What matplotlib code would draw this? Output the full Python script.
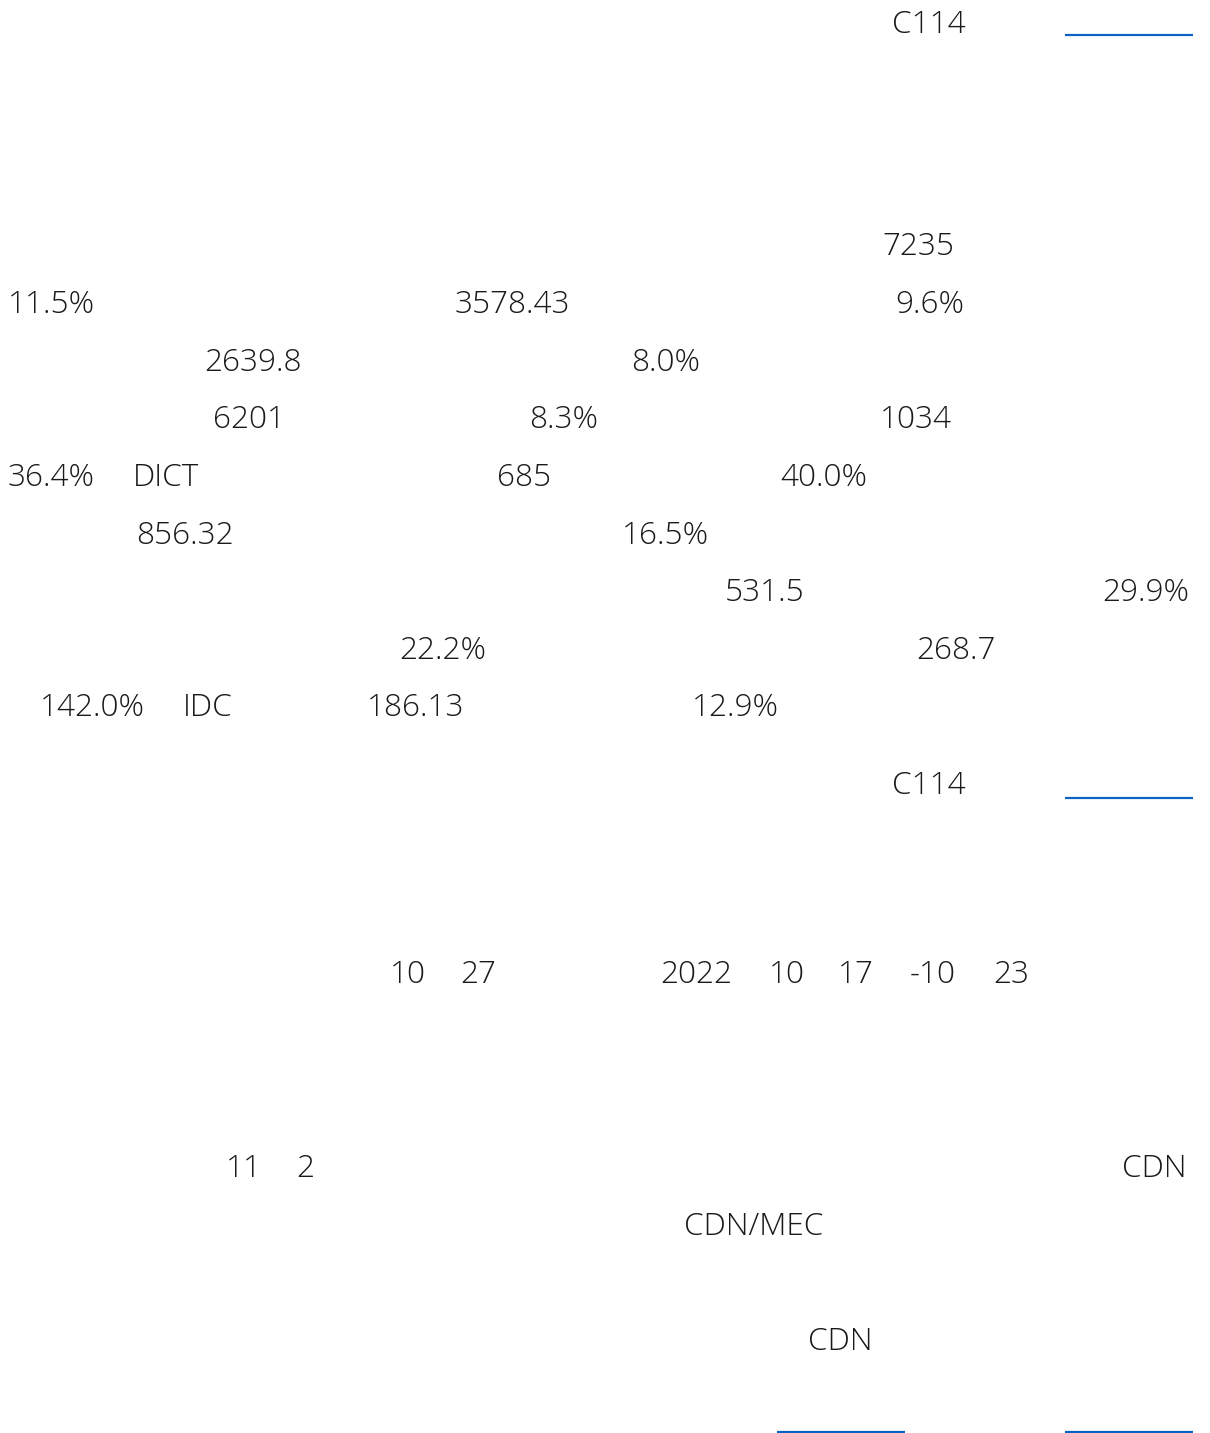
import matplotlib
matplotlib.use("Agg")
import matplotlib.pyplot as plt

# Visible text fragments (Latin/digits only; CJK glyphs render blank in the source)
row_texts = [
    ["C114"],
    ["7235"],
    ["11.5%", "3578.43", "9.6%"],
    ["2639.8", "8.0%"],
    ["6201", "8.3%", "1034"],
    ["36.4%", "DICT", "685", "40.0%"],
    ["856.32", "16.5%"],
    ["531.5", "29.9%"],
    ["22.2%", "268.7"],
    ["142.0%", "IDC", "186.13", "12.9%"],
    ["C114"],
    ["10", "27", "2022", "10", "17", "-10", "23"],
    ["11", "2", "CDN"],
    ["CDN/MEC"],
    ["CDN"],
]

# layout (pixel coordinates of the page)
row_baselines = [33, 255, 313, 371, 428, 486, 544, 601, 659, 716, 794, 983, 1177, 1235, 1350]
row_x = [
    [892],
    [882],
    [8, 455, 895],
    [204, 631],
    [213, 529, 880],
    [8, 133, 497, 780],
    [136, 622],
    [725, 1102],
    [399, 916],
    [40, 183, 367, 692],
    [892],
    [390, 460, 660, 769, 838, 910, 993],
    [226, 296, 1122],
    [684],
    [808],
]
link_y = [35, 798, 1432, 1432]
link_x0 = [1065, 1065, 777, 1065]
link_x1 = [1193, 1193, 905, 1193]

W, H = 1210, 1433
fig = plt.figure(figsize=(W / 100, H / 100), dpi=100)
ax = fig.add_axes([0, 0, 1, 1])
ax.set_xlim(0, W)
ax.set_ylim(H, 0)
ax.axis("off")

for texts, xs, yb in zip(row_texts, row_x, row_baselines):
    for t, x in zip(texts, xs):
        ax.text(x, yb, t, fontsize=22.7, family=["Open Sans", "DejaVu Sans"], weight="light",
                color="#1a1a1a", ha="left", va="baseline")

for y, x0, x1 in zip(link_y, link_x0, link_x1):
    ax.plot([x0, x1], [y, y], color="#0a62c2", lw=1.6, solid_capstyle="butt")

fig.savefig("out.png", dpi=100, facecolor="white")
